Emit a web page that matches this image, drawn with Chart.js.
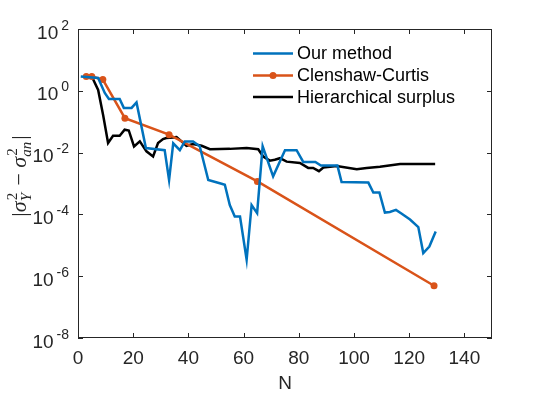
<!DOCTYPE html>
<html>
<head>
<meta charset="utf-8">
<script src="https://cdn.jsdelivr.net/npm/chart.js@4/dist/chart.umd.min.js"></script>
<style>
  html, body { margin: 0; padding: 0; background: #fff; }
  #wrap { width: 545px; height: 395px; }
</style>
</head>
<body>
<div id="wrap"><canvas id="err-chart" width="545" height="395"></canvas></div>
<script>
// values
const ourN = [1, 7.3, 9.7, 11.2, 15.1, 16.6, 19.4, 21.2, 24.6, 31.4, 33, 34.5, 36.9, 38.7, 41.7, 44.1, 47.2, 52, 53.2, 55,
    56.8, 58.7, 61.1, 62.9, 64.9, 66.9, 70.7, 75, 79.2, 81.6, 86, 88, 94, 95.5, 105.2, 107, 109.2, 111.2, 113, 115.2,
    117.3, 120.3, 123.3, 125.1, 127.3, 129.6];
const ourErr = [2.9, 2.6, 0.85, 0.54, 0.54, 0.28, 0.28, 0.42, 0.014, 0.012, 0.0013, 0.02, 0.012, 0.023, 0.023, 0.016, 0.0013, 9.8e-4, 9.1e-4, 2.0e-4,
    8.5e-5, 8.5e-5, 3.4e-6, 2.0e-4, 1.1e-4, 0.016, 1.7e-3, 0.012, 0.012, 5.0e-3, 5.0e-3, 3.8e-3, 3.8e-3, 1.12e-3, 1.07e-3, 5.1e-4, 5.1e-4, 1.15e-4, 1.2e-4, 1.4e-4,
    1.05e-4, 6.8e-5, 3.9e-5, 5.6e-6, 9.1e-6, 2.8e-5];

const ccN = [3, 5, 9, 17, 33, 65, 129];
const ccErr = [2.9, 2.9, 2.3, 0.13, 0.038, 1.17e-3, 4.9e-7];

const hsN = [5, 7.3, 9.1, 10.9, 12.7, 15.1, 16.9, 18.4, 20.3, 22.4, 24.8, 27.2, 29, 30.8, 32, 35.7, 37.5, 39.3, 41.7, 44.8,
    47.8, 55, 61.1, 65.3, 67.1, 69.5, 71.3, 73.2, 75.6, 80.4, 83.4, 85.2, 87.3, 88.9, 93.7, 101, 104.6, 109.4, 116.7, 129.4];
const hsErr = [2.9, 1.07, 0.166, 0.0204, 0.035, 0.035, 0.055, 0.052, 0.0158, 0.023, 0.011, 0.0075, 0.0204, 0.0275, 0.0295, 0.0316, 0.023, 0.0166, 0.019, 0.0166,
    0.0129, 0.0132, 0.0141, 0.0129, 0.0075, 0.0055, 0.0059, 0.0066, 0.0051, 0.0046, 0.0032, 0.0032, 0.0025, 0.0033, 0.0037, 0.0029, 0.0032, 0.0035, 0.0043, 0.0043];

const seriesNames = ['Our method', 'Clenshaw-Curtis', 'Hierarchical surplus'];
const seriesColors = ['#0072BD', '#D95319', '#000000'];

const xTicks = [0, 20, 40, 60, 80, 100, 120, 140];
const yTickExps = [-8, -6, -4, -2, 0, 2];

const axisColor = '#262626';
const sansFont = '"Liberation Sans", Arial, Helvetica, sans-serif';
const serifFont = '"Liberation Serif", "Times New Roman", serif';

function pairs(xs, ys) {
    return xs.map((x, i) => ({ x: x, y: ys[i] }));
}

// box, inward ticks, y tick labels with exponents, legend and the y title
const decorations = {
    id: 'decorations',
    afterDraw(chart) {
        const c = chart.ctx;
        const area = chart.chartArea;
        const xs = chart.scales.x;
        const ys = chart.scales.y;
        c.save();

        c.strokeStyle = axisColor;
        c.lineWidth = 1;
        c.strokeRect(area.left + 0.5, area.top + 0.5, area.right - area.left - 1, area.bottom - area.top - 1);

        const tl = 5;
        c.beginPath();
        xTicks.forEach(v => {
            const px = Math.round(xs.getPixelForValue(v)) + 0.5;
            c.moveTo(px, area.bottom); c.lineTo(px, area.bottom - tl);
            c.moveTo(px, area.top); c.lineTo(px, area.top + tl);
        });
        yTickExps.forEach(e => {
            const py = Math.round(ys.getPixelForValue(Math.pow(10, e))) + 0.5;
            c.moveTo(area.left, py); c.lineTo(area.left + tl, py);
            c.moveTo(area.right, py); c.lineTo(area.right - tl, py);
        });
        c.stroke();

        // y tick labels: 10 with raised exponent
        c.fillStyle = axisColor;
        c.textBaseline = 'alphabetic';
        yTickExps.forEach(e => {
            const py = ys.getPixelForValue(Math.pow(10, e));
            const expText = e < 0 ? '-' + Math.abs(e) : String(e);
            c.font = '14px ' + sansFont;
            c.textAlign = 'right';
            const expRight = area.left - 9;
            c.fillText(expText, expRight, py + 0.5);
            const ew = c.measureText(expText).width;
            c.font = '19px ' + sansFont;
            c.fillText('10', expRight - ew - 3, py + 9.5);
        });

        // legend
        const lx0 = 253, lx1 = 293, rows = [53.5, 75.5, 97];
        c.textAlign = 'left';
        c.textBaseline = 'middle';
        c.font = '18px ' + sansFont;
        rows.forEach((ry, i) => {
            c.strokeStyle = seriesColors[i];
            c.lineWidth = 2.5;
            c.beginPath();
            c.moveTo(lx0, ry); c.lineTo(lx1, ry);
            c.stroke();
            if (i === 1) {
                c.fillStyle = seriesColors[i];
                c.beginPath();
                c.arc((lx0 + lx1) / 2, ry, 3.5, 0, Math.PI * 2);
                c.fill();
            }
            c.fillStyle = '#000';
            c.fillText(seriesNames[i], 297, ry + 1);
        });

        // y title |σ²_Y − σ²_an|
        const big = 'italic 22px ' + serifFont;
        const bigUp = '22px ' + serifFont;
        const small = '15px ' + serifFont;
        const smallIt = 'italic 15px ' + serifFont;
        const pieces = [
            { t: '|', f: bigUp },
            { t: 'σ', f: big },
            { sup: '2', sub: 'Y' },
            { t: ' − ', f: bigUp },
            { t: 'σ', f: big },
            { sup: '2', sub: 'an' },
            { t: '|', f: bigUp }
        ];
        const widthOf = p => {
            if (p.t !== undefined) { c.font = p.f; return c.measureText(p.t).width; }
            c.font = small; const a = c.measureText(p.sup).width;
            c.font = smallIt; const b = c.measureText(p.sub).width;
            return Math.max(a, b) + 2;
        };
        const total = pieces.reduce((s, p) => s + widthOf(p), 0);
        c.translate(26, 176);
        c.rotate(-Math.PI / 2);
        c.fillStyle = axisColor;
        c.textAlign = 'left';
        c.textBaseline = 'alphabetic';
        let cx = -total / 2;
        pieces.forEach(p => {
            const w = widthOf(p);
            if (p.t !== undefined) {
                c.font = p.f;
                c.fillText(p.t, cx, 0);
            } else {
                c.font = small;
                c.fillText(p.sup, cx + 1, -9);
                c.font = smallIt;
                c.fillText(p.sub, cx, 5);
            }
            cx += w;
        });
        c.restore();
    }
};

const ctx = document.getElementById('err-chart').getContext('2d');

const chart = new Chart(ctx, {
    type: 'line',
    data: {
        datasets: [
            {
                label: seriesNames[0],
                data: pairs(ourN, ourErr),
                borderColor: seriesColors[0],
                backgroundColor: seriesColors[0],
                borderWidth: 2.5,
                pointRadius: 0,
                tension: 0
            },
            {
                label: seriesNames[1],
                data: pairs(ccN, ccErr),
                borderColor: seriesColors[1],
                backgroundColor: seriesColors[1],
                borderWidth: 2.5,
                pointRadius: 3.5,
                pointBorderWidth: 0,
                tension: 0
            },
            {
                label: seriesNames[2],
                data: pairs(hsN, hsErr),
                borderColor: seriesColors[2],
                backgroundColor: seriesColors[2],
                borderWidth: 2.5,
                pointRadius: 0,
                tension: 0
            }
        ]
    },
    options: {
        responsive: false,
        animation: false,
        layout: { padding: { top: 29, right: 53, left: 0, bottom: 0 } },
        plugins: {
            legend: { display: false },
            tooltip: { enabled: false },
            title: { display: false }
        },
        scales: {
            x: {
                type: 'linear',
                min: 0,
                max: 150,
                afterBuildTicks: (s) => { s.ticks = xTicks.map(v => ({ value: v })); },
                afterFit: (s) => { s.height = 57; },
                grid: { display: false, drawTicks: false },
                border: { display: false },
                ticks: {
                    color: axisColor,
                    font: { family: sansFont, size: 19 },
                    padding: 9,
                    maxRotation: 0,
                    autoSkip: false
                },
                title: {
                    display: true,
                    text: 'N',
                    color: axisColor,
                    font: { family: sansFont, size: 19 },
                    padding: { top: 0, bottom: 0 }
                }
            },
            y: {
                type: 'logarithmic',
                min: 1e-8,
                max: 1e2,
                afterBuildTicks: (s) => { s.ticks = yTickExps.map(e => ({ value: Math.pow(10, e) })); },
                afterFit: (s) => { s.width = 78; },
                grid: { display: false, drawTicks: false },
                border: { display: false },
                ticks: { display: false }
            }
        }
    },
    plugins: [decorations]
});
</script>
</body>
</html>
